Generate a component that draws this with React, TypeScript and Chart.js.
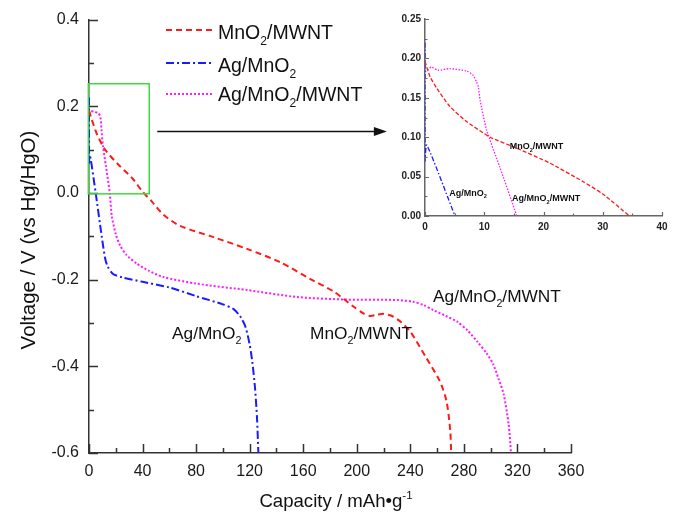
import React, { useEffect, useRef } from "react";
import { Chart, registerables } from "chart.js";

Chart.register(...registerables);

// ---------- DATA (main chart) ----------
const seriesNames = ["MnO2/MWNT", "Ag/MnO2", "Ag/MnO2/MWNT"];
const seriesColors = ["#ff1a1a", "#1a1aff", "#ff1aff"];

const mno2MwntCap = [0, 2, 6, 12, 22, 32, 40, 47, 55.5, 68, 93, 118, 143, 165, 183, 197.5, 205, 210, 215, 220, 227, 233, 240, 252, 262, 267, 269.8, 270.5];
const mno2MwntV = [0.19, 0.17, 0.135, 0.1, 0.065, 0.035, 0.003, -0.02, -0.05, -0.076, -0.102, -0.129, -0.16, -0.198, -0.228, -0.262, -0.278, -0.284, -0.281, -0.279, -0.285, -0.298, -0.32, -0.381, -0.434, -0.48, -0.548, -0.6];

const agMno2Cap = [0, 0.1, 0.4, 1.2, 5, 9.5, 12, 14, 18, 25, 40, 60, 80, 100, 108, 113, 117, 120, 122, 124, 125.5, 126.5];
const agMno2V = [0.22, 0.07, 0.088, 0.08, 0.0, -0.1, -0.15, -0.17, -0.187, -0.195, -0.205, -0.218, -0.238, -0.257, -0.268, -0.285, -0.31, -0.35, -0.39, -0.45, -0.52, -0.6];

const agMno2MwntCap = [0, 1, 4, 7, 8.5, 9.3, 10.4, 12.6, 15.5, 17, 20, 23.2, 28, 35.6, 45, 55.5, 80, 118, 155, 192, 230, 242, 250, 257, 266, 275, 283, 290, 297, 302, 306, 309.7, 313.4, 315.2];
const agMno2MwntV = [0.183, 0.189, 0.187, 0.184, 0.175, 0.147, 0.109, 0.063, 0.0, -0.053, -0.095, -0.121, -0.143, -0.163, -0.18, -0.194, -0.209, -0.224, -0.24, -0.246, -0.247, -0.251, -0.259, -0.27, -0.283, -0.297, -0.318, -0.343, -0.37, -0.396, -0.43, -0.464, -0.533, -0.6];

// ---------- DATA (inset) ----------
const insetMno2MwntCap = [0, 0.84, 2, 4.2, 7, 11, 15.5, 21.1, 26.7, 30, 34.5];
const insetMno2MwntV = [0.196, 0.177, 0.162, 0.139, 0.12, 0.1, 0.086, 0.067, 0.0435, 0.028, 0.0];
const insetAgMno2Cap = [0, 0, 0.3, 5.06];
const insetAgMno2V = [0.22, 0.07, 0.09, 0.0];
const insetAgMno2MwntCap = [0, 0.5, 1.1, 2.2, 4.2, 7, 8.1, 8.7, 9, 9.3, 10.4, 12.6, 15.5];
const insetAgMno2MwntV = [0.183, 0.186, 0.189, 0.185, 0.187, 0.184, 0.179, 0.17, 0.164, 0.147, 0.109, 0.0626, 0.0];

// ---------- axis / text ----------
const xAxisTitle = "Capacity / mAh\u2022g";
const xAxisTitleSup = "-1";
const yAxisTitle = "Voltage / V (vs Hg/HgO)";

const FONT = "'Liberation Sans', Arial, Helvetica, sans-serif";

type Part = [string, number]; // 0 normal, 1 sub, 2 sup

function parseChem(s: string): Part[] {
  const parts: Part[] = [];
  let buf = "";
  for (let i = 0; i < s.length; i++) {
    const c = s[i];
    if (/[0-9]/.test(c) && i > 0 && /[A-Za-z]/.test(s[i - 1])) {
      if (buf) parts.push([buf, 0]);
      buf = "";
      parts.push([c, 1]);
    } else buf += c;
  }
  if (buf) parts.push([buf, 0]);
  return parts;
}

function fontFor(size: number, kind: number, weight: string) {
  const sz = kind === 0 ? size : size * 0.62;
  return `${weight} ${sz}px ${FONT}`;
}

function drawRich(
  ctx: CanvasRenderingContext2D,
  parts: Part[],
  x: number,
  y: number,
  size: number,
  color: string,
  weight = "normal",
  align = "left"
) {
  ctx.save();
  ctx.textBaseline = "alphabetic";
  ctx.textAlign = "left";
  ctx.fillStyle = color;
  let w = 0;
  for (const [t, k] of parts) {
    ctx.font = fontFor(size, k, weight);
    w += ctx.measureText(t).width;
  }
  let cx = align === "center" ? x - w / 2 : x;
  for (const [t, k] of parts) {
    ctx.font = fontFor(size, k, weight);
    const dy = k === 1 ? size * 0.3 : k === 2 ? -size * 0.42 : 0;
    ctx.fillText(t, cx, y + dy);
    cx += ctx.measureText(t).width;
  }
  ctx.restore();
}

function toPts(xs: number[], ys: number[]) {
  return xs.map((x, i) => ({ x, y: ys[i] }));
}

function drawTicks(
  chart: any,
  xStep: number,
  yStep: number,
  xMinorStep: number,
  yMinorStep: number,
  majorLen: number,
  minorLen: number,
  color: string,
  width: number
) {
  const ctx: CanvasRenderingContext2D = chart.ctx;
  const xs = chart.scales.x;
  const ys = chart.scales.y;
  const { left, bottom } = chart.chartArea;
  ctx.save();
  ctx.strokeStyle = color;
  ctx.lineWidth = width;
  ctx.beginPath();
  const nx = Math.round((xs.max - xs.min) / xMinorStep);
  for (let i = 0; i <= nx; i++) {
    const v = xs.min + i * xMinorStep;
    const isMajor = Math.abs((v - xs.min) / xStep - Math.round((v - xs.min) / xStep)) < 1e-6;
    const px = Math.round(xs.getPixelForValue(v)) + 0.5;
    ctx.moveTo(px, bottom);
    ctx.lineTo(px, bottom - (isMajor ? majorLen : minorLen));
  }
  const ny = Math.round((ys.max - ys.min) / yMinorStep);
  for (let i = 0; i <= ny; i++) {
    const v = ys.min + i * yMinorStep;
    const isMajor = Math.abs((v - ys.min) / yStep - Math.round((v - ys.min) / yStep)) < 1e-6;
    const py = Math.round(ys.getPixelForValue(v)) + 0.5;
    ctx.moveTo(left, py);
    ctx.lineTo(left + (isMajor ? majorLen : minorLen), py);
  }
  ctx.stroke();
  ctx.restore();
}

const dashes = [[6, 4], [8, 3, 2, 3], [2, 2]];
const insetDashes = [[4, 2], [5, 2, 1.5, 2], [1.5, 1.5]];

export default function App() {
  const mainRef = useRef<HTMLCanvasElement>(null);
  const insetRef = useRef<HTMLCanvasElement>(null);

  useEffect(() => {
    const mainSeries = [
      toPts(mno2MwntCap, mno2MwntV),
      toPts(agMno2Cap, agMno2V),
      toPts(agMno2MwntCap, agMno2MwntV),
    ];
    const insetSeries = [
      toPts(insetMno2MwntCap, insetMno2MwntV),
      toPts(insetAgMno2Cap, insetAgMno2V),
      toPts(insetAgMno2MwntCap, insetAgMno2MwntV),
    ];

    const mainDecor = {
      id: "mainDecor",
      afterDatasetsDraw(chart: any) {
        const ctx: CanvasRenderingContext2D = chart.ctx;
        const xs = chart.scales.x;
        const ys = chart.scales.y;
        drawTicks(chart, 40, 0.2, 20, 0.1, 9, 5, "#333", 1.5);

        // green zoom box
        ctx.save();
        ctx.strokeStyle = "#3ddc3d";
        ctx.lineWidth = 1.5;
        const x0 = xs.getPixelForValue(-0.5);
        const x1 = xs.getPixelForValue(45);
        const y0 = ys.getPixelForValue(0.252);
        const y1 = ys.getPixelForValue(-0.002);
        ctx.strokeRect(x0, y0, x1 - x0, y1 - y0);
        ctx.restore();

        // arrow
        ctx.save();
        const ax0 = xs.getPixelForValue(51);
        const ax1 = xs.getPixelForValue(222.5);
        const ay = ys.getPixelForValue(0.142);
        ctx.strokeStyle = "#111";
        ctx.fillStyle = "#111";
        ctx.lineWidth = 1.5;
        ctx.beginPath();
        ctx.moveTo(ax0, ay);
        ctx.lineTo(ax1 - 10, ay);
        ctx.stroke();
        ctx.beginPath();
        ctx.moveTo(ax1, ay);
        ctx.lineTo(ax1 - 13, ay - 4.5);
        ctx.lineTo(ax1 - 13, ay + 4.5);
        ctx.closePath();
        ctx.fill();
        ctx.restore();

        // legend
        const legendY = [30, 63, 94];
        const legendBase = [39, 72, 101];
        for (let i = 0; i < 3; i++) {
          ctx.save();
          ctx.strokeStyle = seriesColors[i];
          ctx.lineWidth = 2;
          ctx.setLineDash(dashes[i]);
          ctx.beginPath();
          ctx.moveTo(166, legendY[i]);
          ctx.lineTo(212, legendY[i]);
          ctx.stroke();
          ctx.restore();
          drawRich(ctx, parseChem(seriesNames[i]), 218, legendBase[i], 19.5, "#111");
        }

        // curve annotations
        drawRich(ctx, parseChem(seriesNames[2]), 433, 302, 17.3, "#111");
        drawRich(ctx, parseChem(seriesNames[1]), 172, 339, 17.3, "#111");
        drawRich(ctx, parseChem(seriesNames[0]), 310, 339, 17.3, "#111");

        // axis titles
        const cxTitle = (chart.chartArea.left + chart.chartArea.right) / 2;
        drawRich(ctx, [[xAxisTitle, 0], [xAxisTitleSup, 2]], cxTitle + 6, 507, 18.6, "#111", "normal", "center");
        ctx.save();
        ctx.translate(29, 240);
        ctx.rotate(-Math.PI / 2);
        ctx.font = `20.5px ${FONT}`;
        ctx.fillStyle = "#111";
        ctx.textAlign = "center";
        ctx.textBaseline = "middle";
        ctx.fillText(yAxisTitle, 0, 0);
        ctx.restore();
      },
    };

    const insetDecor = {
      id: "insetDecor",
      afterDatasetsDraw(chart: any) {
        const ctx: CanvasRenderingContext2D = chart.ctx;
        const xs = chart.scales.x;
        const ys = chart.scales.y;
        drawTicks(chart, 10, 0.05, 5, 0.025, 4, 2.5, "#666", 1.2);
        drawRich(ctx, parseChem(seriesNames[0]), xs.getPixelForValue(14.3), ys.getPixelForValue(0.085), 9, "#111", "bold");
        drawRich(ctx, parseChem(seriesNames[1]), xs.getPixelForValue(4.1), ys.getPixelForValue(0.026), 9, "#111", "bold");
        drawRich(ctx, parseChem(seriesNames[2]), xs.getPixelForValue(14.7), ys.getPixelForValue(0.019), 9, "#111", "bold");
      },
    };

    const main = new Chart(mainRef.current as HTMLCanvasElement, {
      type: "line",
      data: {
        datasets: mainSeries.map((d, i) => ({
          label: seriesNames[i],
          data: d,
          borderColor: seriesColors[i],
          borderWidth: 2,
          borderDash: dashes[i],
          pointRadius: 0,
          fill: false,
          tension: 0.25,
        })),
      },
      options: {
        animation: false,
        responsive: false,
        maintainAspectRatio: false,
        devicePixelRatio: 1,
        layout: { padding: { left: 0, top: 15, right: 107, bottom: 0 } },
        plugins: { legend: { display: false }, tooltip: { enabled: false } },
        events: [],
        scales: {
          x: {
            type: "linear",
            min: 0,
            max: 360,
            grid: { display: false, drawTicks: false },
            border: { display: true, color: "#333", width: 1.5 },
            ticks: {
              stepSize: 40,
              autoSkip: false,
              maxRotation: 0,
              padding: 9,
              color: "#1a1a1a",
              font: { family: FONT, size: 16 },
            },
            afterFit: (s: any) => {
              s.height = 62;
            },
          },
          y: {
            type: "linear",
            min: -0.6,
            max: 0.4,
            grid: { display: false, drawTicks: false },
            border: { display: true, color: "#333", width: 1.5 },
            ticks: {
              stepSize: 0.2,
              padding: 10,
              color: "#1a1a1a",
              font: { family: FONT, size: 16 },
              callback: (v: any) => (Math.abs(Number(v)) < 1e-9 ? "0.0" : Number(v).toFixed(1)),
            },
            afterFit: (s: any) => {
              s.width = 89;
            },
          },
        },
      } as any,
      plugins: [mainDecor],
    });

    const inset = new Chart(insetRef.current as HTMLCanvasElement, {
      type: "line",
      data: {
        datasets: insetSeries.map((d, i) => ({
          label: seriesNames[i],
          data: d,
          borderColor: seriesColors[i],
          borderWidth: 1.3,
          borderDash: insetDashes[i],
          pointRadius: 0,
          fill: false,
          tension: 0.2,
        })),
      },
      options: {
        animation: false,
        responsive: false,
        maintainAspectRatio: false,
        devicePixelRatio: 1,
        layout: { padding: { left: 0, top: 19, right: 16, bottom: 0 } },
        plugins: { legend: { display: false }, tooltip: { enabled: false } },
        events: [],
        scales: {
          x: {
            type: "linear",
            min: 0,
            max: 40,
            grid: { display: false, drawTicks: false },
            border: { display: true, color: "#666", width: 1.5 },
            ticks: {
              stepSize: 10,
              autoSkip: false,
              maxRotation: 0,
              padding: 5,
              color: "#222",
              font: { family: FONT, size: 10, weight: "bold" },
            },
            afterFit: (s: any) => {
              s.height = 24;
            },
          },
          y: {
            type: "linear",
            min: 0,
            max: 0.25,
            grid: { display: false, drawTicks: false },
            border: { display: true, color: "#666", width: 1.5 },
            ticks: {
              stepSize: 0.05,
              padding: 4,
              color: "#222",
              font: { family: FONT, size: 10, weight: "bold" },
              callback: (v: any) => Number(v).toFixed(2),
            },
            afterFit: (s: any) => {
              s.width = 45;
            },
          },
        },
      } as any,
      plugins: [insetDecor],
    });

    return () => {
      main.destroy();
      inset.destroy();
    };
  }, []);

  return (
    <div style={{ position: "fixed", left: 0, top: 0, width: 678, height: 515, background: "#fff" }}>
      <canvas ref={mainRef} width={678} height={515} style={{ position: "absolute", left: 0, top: 0 }} />
      <canvas ref={insetRef} width={298} height={240} style={{ position: "absolute", left: 380, top: 0 }} />
    </div>
  );
}
